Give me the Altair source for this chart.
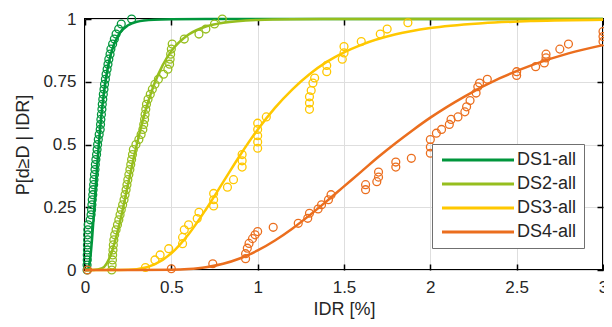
import altair as alt
import pandas as pd

series_names = ["DS1-all", "DS2-all", "DS3-all", "DS4-all"]
series_colors = ["#00963c", "#96be1e", "#ffc800", "#eb6e1e"]

x_ticks = [0, 0.5, 1, 1.5, 2, 2.5, 3]
y_ticks = [0, 0.25, 0.5, 0.75, 1]

# ---- empirical points ----
ds1_pts_x = [0.012, 0.012, 0.013, 0.013, 0.014, 0.014, 0.015, 0.015, 0.016, 0.018,
             0.030, 0.035, 0.038, 0.040, 0.042, 0.045, 0.047, 0.050, 0.052, 0.055,
             0.058, 0.060, 0.063, 0.067, 0.070, 0.073, 0.077, 0.082, 0.088, 0.090,
             0.092, 0.095, 0.098, 0.100, 0.103, 0.106, 0.110, 0.113, 0.118, 0.122,
             0.128, 0.133, 0.138, 0.145, 0.150, 0.160, 0.170, 0.180, 0.195, 0.210, 0.270]
ds1_pts_y = [0.00, 0.02, 0.04, 0.06, 0.08, 0.10, 0.12, 0.14, 0.16, 0.18,
             0.20, 0.22, 0.24, 0.26, 0.28, 0.30, 0.32, 0.34, 0.36, 0.38,
             0.40, 0.42, 0.44, 0.46, 0.48, 0.50, 0.52, 0.54, 0.56, 0.58,
             0.60, 0.62, 0.64, 0.66, 0.68, 0.70, 0.72, 0.74, 0.76, 0.78,
             0.80, 0.82, 0.84, 0.86, 0.88, 0.90, 0.92, 0.94, 0.96, 0.98, 1.00]

ds2_pts_x = [0.155, 0.157, 0.159, 0.160, 0.162, 0.164, 0.167, 0.172, 0.180, 0.188,
             0.196, 0.203, 0.210, 0.218, 0.226, 0.232, 0.238, 0.243, 0.248, 0.254,
             0.260, 0.265, 0.270, 0.275, 0.280, 0.295, 0.312, 0.325, 0.335, 0.340,
             0.345, 0.348, 0.352, 0.356, 0.365, 0.378, 0.390, 0.405, 0.425, 0.455,
             0.480, 0.490, 0.493, 0.496, 0.500, 0.505, 0.575, 0.660, 0.700, 0.750, 0.795]
ds2_pts_y = [0.00, 0.02, 0.04, 0.06, 0.08, 0.10, 0.12, 0.14, 0.16, 0.18,
             0.20, 0.22, 0.24, 0.26, 0.28, 0.30, 0.32, 0.34, 0.36, 0.38,
             0.40, 0.42, 0.44, 0.46, 0.48, 0.50, 0.52, 0.54, 0.56, 0.58,
             0.60, 0.62, 0.64, 0.66, 0.68, 0.70, 0.72, 0.74, 0.76, 0.78,
             0.80, 0.82, 0.84, 0.86, 0.88, 0.90, 0.92, 0.94, 0.96, 0.98, 1.00]

ds3_pts_x = [0.35, 0.405, 0.435, 0.485, 0.565, 0.565, 0.575, 0.60, 0.65, 0.66,
             0.745, 0.745, 0.745, 0.825, 0.86, 0.91, 0.91, 0.91, 1.0, 1.0,
             1.0, 1.0, 1.0, 1.05, 1.30, 1.30, 1.30, 1.31, 1.32, 1.33,
             1.40, 1.40, 1.49, 1.50, 1.50, 1.60, 1.71, 1.75, 1.87]
ds3_pts_y = [0.01, 0.04, 0.06, 0.085, 0.105, 0.13, 0.16, 0.18, 0.205, 0.23,
             0.255, 0.28, 0.305, 0.33, 0.36, 0.41, 0.435, 0.46, 0.485, 0.51,
             0.535, 0.56, 0.585, 0.61, 0.64, 0.665, 0.69, 0.715, 0.745, 0.765,
             0.79, 0.815, 0.84, 0.865, 0.89, 0.91, 0.94, 0.96, 0.985]

ds4_pts_x = [0.015, 0.50, 0.74, 0.93, 0.93, 0.94, 0.95, 0.97, 0.985, 1.0,
             1.09, 1.235, 1.29, 1.30, 1.35, 1.37, 1.41, 1.425, 1.625, 1.625,
             1.69, 1.70, 1.70, 1.80, 1.80, 1.89, 2.0, 2.0, 2.0, 2.035,
             2.065, 2.11, 2.12, 2.16, 2.20, 2.21, 2.23, 2.265, 2.275, 2.285,
             2.33, 2.50, 2.50, 2.61, 2.66, 2.67, 2.67, 2.75, 2.80, 3.0,
             3.0, 3.0]
ds4_pts_y = [0.0, 0.005, 0.025, 0.045, 0.065, 0.087, 0.106, 0.125, 0.14, 0.153,
             0.17, 0.186, 0.206, 0.226, 0.243, 0.26, 0.28, 0.30, 0.32, 0.34,
             0.352, 0.37, 0.39, 0.41, 0.43, 0.445, 0.465, 0.49, 0.52, 0.545,
             0.56, 0.58, 0.60, 0.61, 0.63, 0.65, 0.675, 0.705, 0.73, 0.745,
             0.76, 0.775, 0.79, 0.81, 0.825, 0.845, 0.86, 0.88, 0.90, 0.91,
             0.93, 0.95]

# ---- fitted fragility curves ----
ds1_cur_x = [0, 0.01, 0.02, 0.03, 0.04, 0.05, 0.06, 0.07, 0.08, 0.10, 0.12, 0.15,
             0.20, 0.25, 0.30, 0.40, 0.50, 0.70, 1.0, 2.0, 3.0]
ds1_cur_y = [0, 0.0002, 0.0084, 0.045, 0.116, 0.209, 0.310, 0.409, 0.5, 0.650, 0.758, 0.861,
             0.943, 0.975, 0.989, 0.997, 0.999, 1.0, 1.0, 1.0, 1.0]

ds2_cur_x = [0, 0.05, 0.10, 0.15, 0.20, 0.25, 0.30, 0.35, 0.40, 0.45, 0.50, 0.60,
             0.70, 0.80, 1.0, 1.2, 1.5, 2.0, 3.0]
ds2_cur_y = [0, 0, 0.0073, 0.0618, 0.184, 0.343, 0.5, 0.634, 0.739, 0.816, 0.872, 0.938,
             0.970, 0.985, 0.9963, 0.999, 0.9998, 1.0, 1.0]

ds3_cur_x = [0, 0.2, 0.3, 0.4, 0.5, 0.6, 0.7, 0.8, 0.9, 1.0, 1.1, 1.2, 1.3, 1.4,
             1.5, 1.6, 1.8, 2.0, 2.3, 2.6, 3.0]
ds3_cur_y = [0, 0.0001, 0.0033, 0.021, 0.0665, 0.1425, 0.241, 0.350, 0.459, 0.559, 0.646,
             0.719, 0.780, 0.829, 0.867, 0.897, 0.939, 0.964, 0.983, 0.992, 0.997]

ds4_cur_x = [0, 0.3, 0.5, 0.6, 0.7, 0.8, 0.9, 1.0, 1.1, 1.2, 1.3, 1.4, 1.5, 1.6,
             1.7, 1.8, 1.9, 2.0, 2.2, 2.4, 2.6, 2.8, 3.0]
ds4_cur_y = [0, 0, 0.0009, 0.0038, 0.011, 0.0248, 0.0469, 0.0778, 0.1176, 0.1646, 0.2177,
             0.2743, 0.3332, 0.392, 0.451, 0.506, 0.558, 0.607, 0.692, 0.763, 0.819,
             0.863, 0.896]

pts = [(ds1_pts_x, ds1_pts_y), (ds2_pts_x, ds2_pts_y), (ds3_pts_x, ds3_pts_y), (ds4_pts_x, ds4_pts_y)]
curs = [(ds1_cur_x, ds1_cur_y), (ds2_cur_x, ds2_cur_y), (ds3_cur_x, ds3_cur_y), (ds4_cur_x, ds4_cur_y)]

pt_rows, cur_rows = [], []
for name, (xs, ys) in zip(series_names, pts):
    for a, b in zip(xs, ys):
        pt_rows.append({"series": name, "idr": a, "p": b})
for name, (xs, ys) in zip(series_names, curs):
    for a, b in zip(xs, ys):
        cur_rows.append({"series": name, "idr": a, "p": b})
pts_df = pd.DataFrame(pt_rows)
cur_df = pd.DataFrame(cur_rows)

FONT = "Liberation Sans"
TXT = "#262626"
GRID = "#dedede"

x_scale = alt.Scale(domain=[0, 3], nice=False, zero=False)
y_scale = alt.Scale(domain=[0, 1], nice=False, zero=False)
color_scale = alt.Scale(domain=series_names, range=series_colors)

x_main = alt.Axis(values=x_ticks, format=".1~f", title="IDR [%]", grid=True, gridColor=GRID,
                  gridWidth=1, domain=False, ticks=True, tickSize={"expr": "-6"}, tickColor="#000",
                  tickWidth=1.5, labelPadding=15, labelFontSize=17, labelFont=FONT,
                  labelColor=TXT, labelFlush=False, labelOverlap=False, titleFont=FONT,
                  titleFontSize=18, titleFontWeight="normal", titleColor=TXT, titlePadding=5)
y_main = alt.Axis(values=y_ticks, format=".2~f", title="P[d≥D | IDR]", grid=True, gridColor=GRID,
                  gridWidth=1, domain=False, ticks=True, tickSize={"expr": "-6"}, tickColor="#000",
                  tickWidth=1.5, labelPadding=15, labelFontSize=17, labelFont=FONT,
                  labelColor=TXT, labelFlush=False, labelOverlap=False, titleFont=FONT,
                  titleFontSize=18, titleFontWeight="normal", titleColor=TXT, titlePadding=10)
x_top = alt.Axis(orient="top", values=x_ticks, labels=False, grid=False, domain=False, ticks=True,
                 tickSize={"expr": "-6"}, tickColor="#000", tickWidth=1.5, title=None)
y_right = alt.Axis(orient="right", values=y_ticks, labels=False, grid=False, domain=False, ticks=True,
                   tickSize={"expr": "-6"}, tickColor="#000", tickWidth=1.5, title=None)

# horizontal line symbol, drawn to the right of the symbol centre
legend = alt.Legend(orient="none", legendX=347, legendY=125, title=None,
                    symbolType="M-1,0H11", symbolSize=144, symbolStrokeWidth=3,
                    symbolFillColor="transparent",
                    labelFontSize=18, labelFont=FONT, labelColor=TXT, padding=7,
                    rowPadding=6, labelOffset=60, strokeColor="#707070", fillColor="white")

layers = []
for i, (name, col) in enumerate(zip(series_names, series_colors)):
    if i == 0:
        xa, ya = x_main, y_main
    elif i == 1:
        xa, ya = x_top, y_right
    else:
        xa, ya = None, None
    line = alt.Chart(cur_df).transform_filter(alt.datum.series == name).mark_line(
        strokeWidth=2.5, interpolate="monotone"
    ).encode(
        x=alt.X("idr:Q", scale=x_scale, axis=xa),
        y=alt.Y("p:Q", scale=y_scale, axis=ya),
        color=alt.Color("series:N", scale=color_scale, legend=legend),
    )
    dots = alt.Chart(pts_df).transform_filter(alt.datum.series == name).mark_point(
        shape="circle", filled=False, size=62, strokeWidth=1.3, color=col, opacity=1
    ).encode(
        x=alt.X("idr:Q", scale=x_scale, axis=None),
        y=alt.Y("p:Q", scale=y_scale, axis=None),
    )
    layers += [line, dots]

chart = alt.layer(*layers).resolve_axis(x="independent", y="independent").properties(
    width=518, height=251,
    autosize=alt.AutoSizeParams(type="none"),
    padding={"left": 77, "top": 11, "right": 1, "bottom": 49},
).configure_view(stroke="#000", strokeWidth=2)

chart.save("out.html", embed_options={"renderer": "svg", "actions": False})
